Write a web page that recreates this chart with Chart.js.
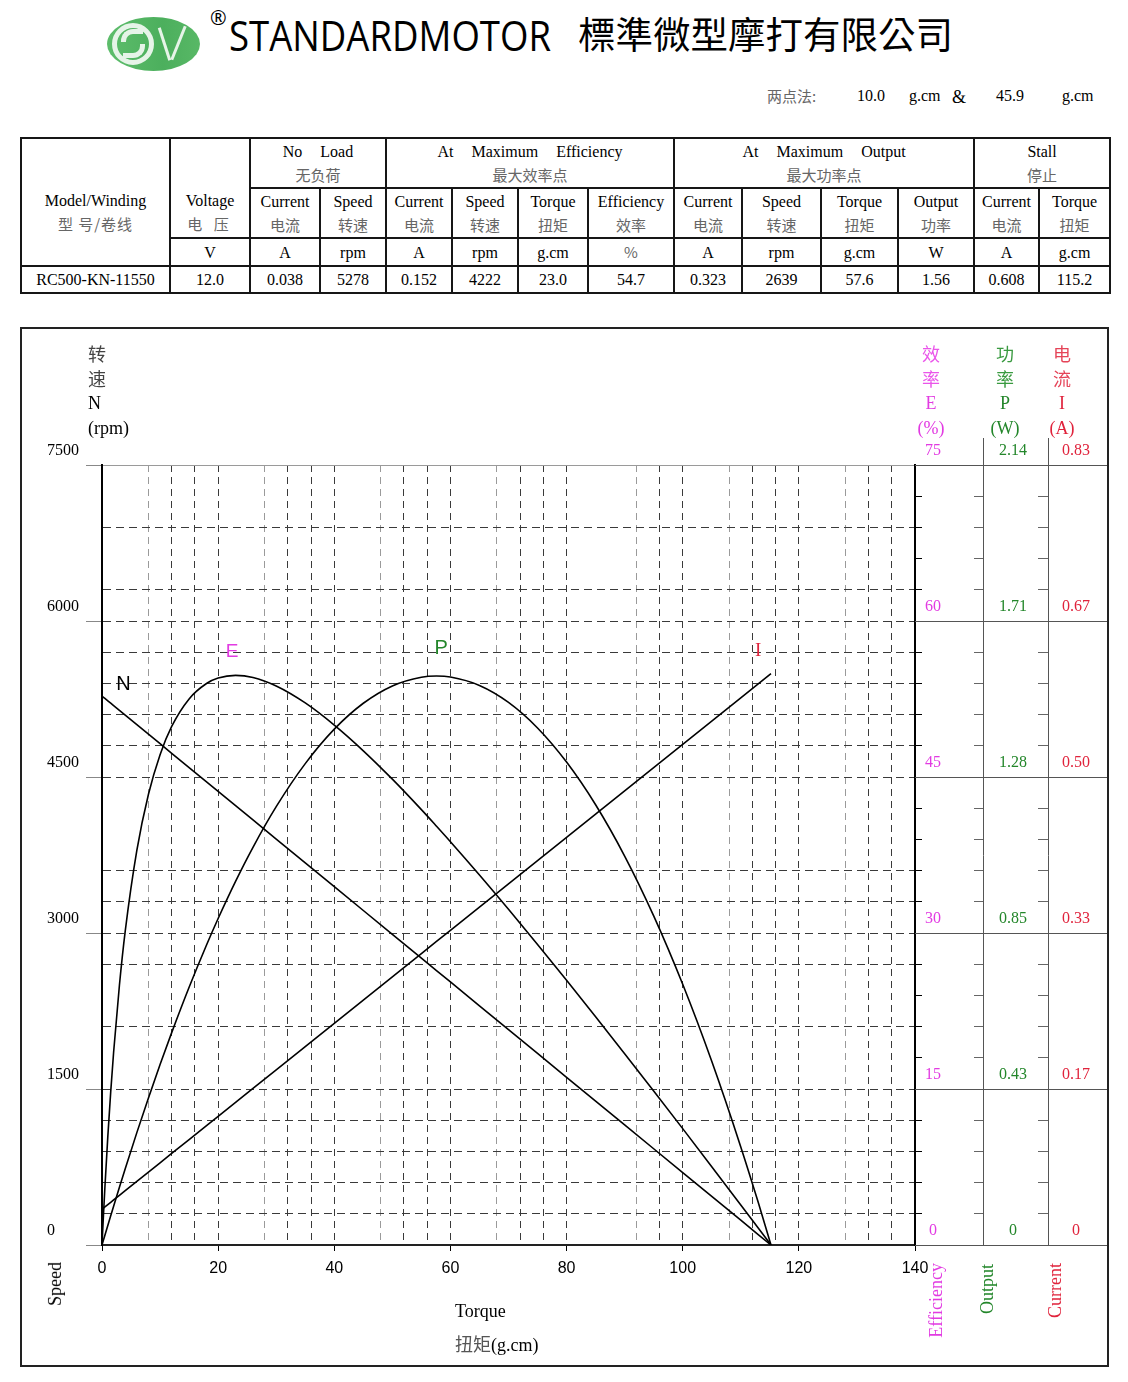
<!DOCTYPE html>
<html><head><meta charset="utf-8">
<script src="https://cdn.jsdelivr.net/npm/chart.js@4.4.0/dist/chart.umd.min.js"></script>
<style>
html,body{margin:0;padding:0;background:#fff;}
body{width:1128px;height:1382px;position:relative;overflow:hidden;font-family:"Liberation Serif",serif;color:#000;}
.abs{position:absolute;white-space:nowrap;}
.c{font-family:"Noto Sans CJK SC",sans-serif;color:#666;font-size:15px;}
#spec{position:absolute;left:20px;top:137px;border-collapse:collapse;table-layout:fixed;width:1089px;}
#spec td{border:2px solid #161616;text-align:center;vertical-align:middle;padding:0;font-size:16px;line-height:23px;white-space:nowrap;}
#spec tr.r1 td,#spec tr.r2 td{height:48px;}
#spec tr.r3 td,#spec tr.r4 td{height:25px;line-height:25px;}
#spec td.tall{vertical-align:top;padding-top:50px;height:auto;}
.grp{word-spacing:5px;}
#frame{position:absolute;left:20px;top:327px;width:1089px;height:1040px;border:2px solid #222;box-sizing:border-box;}
#wrap{position:absolute;left:22px;top:329px;width:1085px;height:1036px;}
.ttl{position:absolute;font-size:18px;text-align:center;width:50px;}
.ttl div{height:25px;line-height:25px;white-space:nowrap;}
.ttl div.k{font-family:"Noto Sans CJK SC",sans-serif;font-size:18px;}
.vert{position:absolute;writing-mode:vertical-rl;transform:rotate(180deg);font-size:18px;line-height:20px;white-space:nowrap;}
</style>
</head><body>

<!-- header -->
<div class="abs" style="left:107px;top:17px;width:93px;height:54px;">
  <div style="position:absolute;left:0;top:0;width:93px;height:54px;border-radius:50%;background:linear-gradient(90deg,#5dbd6b,#4caf5d 60%,#58b866);"></div>
  <div style="position:absolute;left:5px;top:6px;width:42px;height:42px;border-radius:50%;border:5px solid #e6f4e8;box-sizing:border-box;"></div>
  <div style="position:absolute;left:14px;top:12px;width:22px;height:13px;border-top:5px solid #e6f4e8;border-left:5px solid #e6f4e8;border-radius:12px 0 0 0;box-sizing:border-box;"></div>
  <div style="position:absolute;left:16px;top:27px;width:22px;height:14px;border-bottom:5px solid #e6f4e8;border-right:5px solid #e6f4e8;border-radius:0 0 12px 0;box-sizing:border-box;"></div>
  <div style="position:absolute;left:56px;top:10px;width:3px;height:34px;background:#e6f4e8;transform:rotate(-18deg);"></div>
  <div style="position:absolute;left:70px;top:8px;width:3px;height:36px;background:#e6f4e8;transform:rotate(22deg);"></div>
</div>
<div class="abs" style="left:210px;top:6px;font-family:'Open Sans',sans-serif;font-size:20px;line-height:24px;">®</div>
<div id="brand" class="abs" style="left:229px;top:9px;font-family:'Open Sans',sans-serif;font-size:42px;line-height:52px;transform-origin:0 0;">STANDARDMOTOR</div>
<div id="brandcn" class="abs" style="left:578px;top:8px;font-family:'Noto Sans CJK TC',sans-serif;font-size:37px;line-height:50px;transform-origin:0 0;">標準微型摩打有限公司</div>

<div class="abs" style="left:767px;top:85px;font-size:16px;line-height:22px;"><span class="c" style="font-size:15px;">两点法:</span></div>
<div class="abs" style="left:857px;top:85px;font-size:16px;line-height:22px;">10.0</div>
<div class="abs" style="left:909px;top:85px;font-size:16px;line-height:22px;">g.cm</div>
<div class="abs" style="left:952px;top:86px;font-size:18px;line-height:22px;">&amp;</div>
<div class="abs" style="left:996px;top:85px;font-size:16px;line-height:22px;">45.9</div>
<div class="abs" style="left:1062px;top:85px;font-size:16px;line-height:22px;">g.cm</div>

<!-- spec table -->
<table id="spec">
<colgroup>
<col style="width:149px"><col style="width:80px"><col style="width:70px"><col style="width:66px"><col style="width:66px"><col style="width:66px"><col style="width:70px"><col style="width:86px"><col style="width:68px"><col style="width:79px"><col style="width:77px"><col style="width:76px"><col style="width:65px"><col style="width:71px">
</colgroup>
<tr class="r1">
 <td rowspan="3" class="tall">Model/Winding<br><span class="c" style="letter-spacing:1px;">型 号/卷线</span></td>
 <td rowspan="2" class="tall">Voltage<br><span class="c" style="letter-spacing:4px;">电 压</span></td>
 <td colspan="2" class="grp">No &nbsp;Load<br><span class="c">无负荷</span></td>
 <td colspan="4" class="grp">At &nbsp;Maximum &nbsp;Efficiency<br><span class="c">最大效率点</span></td>
 <td colspan="4" class="grp">At &nbsp;Maximum &nbsp;Output<br><span class="c">最大功率点</span></td>
 <td colspan="2">Stall<br><span class="c">停止</span></td>
</tr>
<tr class="r2">
 <td>Current<br><span class="c">电流</span></td>
 <td>Speed<br><span class="c">转速</span></td>
 <td>Current<br><span class="c">电流</span></td>
 <td>Speed<br><span class="c">转速</span></td>
 <td>Torque<br><span class="c">扭矩</span></td>
 <td>Efficiency<br><span class="c">效率</span></td>
 <td>Current<br><span class="c">电流</span></td>
 <td>Speed<br><span class="c">转速</span></td>
 <td>Torque<br><span class="c">扭矩</span></td>
 <td>Output<br><span class="c">功率</span></td>
 <td>Current<br><span class="c">电流</span></td>
 <td>Torque<br><span class="c">扭矩</span></td>
</tr>
<tr class="r3">
 <td>V</td><td>A</td><td>rpm</td><td>A</td><td>rpm</td><td>g.cm</td><td><span class="c">%</span></td><td>A</td><td>rpm</td><td>g.cm</td><td>W</td><td>A</td><td>g.cm</td>
</tr>
<tr class="r4">
 <td>RC500-KN-11550</td><td>12.0</td><td>0.038</td><td>5278</td><td>0.152</td><td>4222</td><td>23.0</td><td>54.7</td><td>0.323</td><td>2639</td><td>57.6</td><td>1.56</td><td>0.608</td><td>115.2</td>
</tr>
</table>

<!-- chart frame -->
<div id="frame"></div>
<div id="wrap"><canvas id="c" width="1085" height="1036"></canvas></div>

<div class="ttl" style="left:88px;top:341px;text-align:left;width:60px;"><div class="k" style="color:#444">转</div><div class="k" style="color:#444">速</div><div>N</div><div>(rpm)</div></div>
<div class="ttl" style="left:906px;top:341px;color:#e23be2;"><div class="k" style="color:#ea55ea">效</div><div class="k" style="color:#ea55ea">率</div><div>E</div><div>(%)</div></div>
<div class="ttl" style="left:980px;top:341px;color:#23862a;"><div class="k" style="color:#3a9a40">功</div><div class="k" style="color:#3a9a40">率</div><div>P</div><div>(W)</div></div>
<div class="ttl" style="left:1037px;top:341px;color:#e0233c;"><div class="k" style="color:#e54458">电</div><div class="k" style="color:#e54458">流</div><div>I</div><div>(A)</div></div>

<div class="vert" style="left:45px;top:1262px;">Speed</div>
<div class="vert" style="left:926px;top:1263px;color:#e23be2;">Efficiency</div>
<div class="vert" style="left:977px;top:1264px;color:#23862a;">Output</div>
<div class="vert" style="left:1045px;top:1263px;color:#e0233c;">Current</div>

<div class="abs" style="left:455px;top:1299px;font-size:18px;line-height:24px;">Torque</div>
<div class="abs" style="left:455px;top:1331px;font-size:18px;line-height:24px;"><span class="c" style="font-size:18px;color:#555">扭矩</span>(g.cm)</div>

<script>
// ---- data ----
const torque     = [0,0.25,0.5,1,1.5,2,3,4,6,8,10,12,15,18,20,23,26,30,35,40,45,50,55,57.6,60,65,70,75,80,85,90,95,100,105,110,113,115.2];
const speed      = [5278,5266.5,5255,5232.2,5209.3,5186.4,5140.6,5094.7,5003.1,4911.5,4819.8,4728.2,4590.8,4453.3,4361.7,4224.2,4086.8,3903.5,3674.4,3445.4,3216.3,2987.2,2758.1,2639.0,2529.0,2299.9,2070.9,1841.8,1612.7,1383.6,1154.6,925.5,696.4,467.3,238.2,100.8,0];
const current    = [0.038,0.0392,0.0405,0.0430,0.0454,0.0479,0.0528,0.0578,0.0677,0.0776,0.0875,0.0974,0.1122,0.1271,0.1370,0.1518,0.1667,0.1864,0.2112,0.2359,0.2607,0.2854,0.3101,0.3230,0.3349,0.3596,0.3844,0.4091,0.4338,0.4586,0.4833,0.5081,0.5328,0.5575,0.5823,0.5971,0.608];
const output     = [0,0.0135,0.0270,0.0537,0.0802,0.1065,0.1584,0.2093,0.3083,0.4035,0.4950,0.5827,0.7072,0.8232,0.8959,0.9978,1.0912,1.2026,1.3207,1.4153,1.4863,1.5339,1.5578,1.5610,1.5583,1.5352,1.4887,1.4186,1.3249,1.2078,1.0671,0.9029,0.7152,0.5039,0.2691,0.1170,0];
const efficiency = [0,2.87,5.56,10.42,14.72,18.53,24.98,30.18,37.95,43.34,47.15,49.86,52.51,53.99,54.51,54.77,54.57,53.75,52.12,49.99,47.52,44.79,41.86,40.27,38.78,35.58,32.28,28.90,25.45,21.95,18.40,14.81,11.19,7.53,3.85,1.63,0];

// ---- tick labels ----
const torqueLabels  = ['0','20','40','60','80','100','120','140'];
const speedLabels   = ['0','1500','3000','4500','6000','7500'];
const effLabels     = ['0','15','30','45','60','75'];
const powerLabels   = ['0','0.43','0.85','1.28','1.71','2.14'];
const currentLabels = ['0','0.17','0.33','0.50','0.67','0.83'];
const torqueMax = 140, speedMax = 7500, effMax = 75, powerMax = 2.14, currentMax = 0.83;

// ---- styling ----
const MAG = '#e23be2', GRN = '#23862a', RED = '#e0233c';
const TRANSP = 'rgba(0,0,0,0)';
const hiddenTorqueGrid = [4,24,44,64,84,88,104,124];
const lightTorqueGrid  = [8,28,48,68,92,108,128];
const hiddenSpeedGrid  = [7200,6600,4200,3900,2400,1800];

function evenTicks(max, n){ const a=[]; for(let i=0;i<=n;i++) a.push({value:max*i/n}); return a; }
function majorLabel(labels){ return (v,i) => (i%5===0 ? labels[i/5] : ''); }

const pts = arr => torque.map((t,i)=>({x:t, y:arr[i]}));

const decor = {
  id:'decor',
  afterDraw(chart){
    const {ctx, chartArea, scales:{x, y, yE, yP, yI}} = chart;
    ctx.save();
    ctx.strokeStyle = '#555'; ctx.lineWidth = 1;
    for (let i=0;i<=5;i++){
      const py = Math.round(y.getPixelForValue(speedMax*i/5)) + 0.5;
      ctx.beginPath(); ctx.moveTo(yE.left, py); ctx.lineTo(yI.right, py); ctx.stroke();
    }
    [yP, yI].forEach(s=>{
      const px = Math.round(s.left) + 0.5;
      ctx.beginPath(); ctx.moveTo(px, chartArea.top - 27); ctx.lineTo(px, chartArea.top); ctx.stroke();
    });
    const tags = [
      {t:'N', x:3.7,  y:5394, c:'#000', f:'20px "Liberation Sans"'},
      {t:'E', x:22.4, y:5702, c:MAG,   f:'19px "Liberation Sans"'},
      {t:'P', x:58.4, y:5731, c:GRN,   f:'20px "Liberation Sans"'},
      {t:'I', x:113,  y:5712, c:RED,   f:'19px "Liberation Serif"'}
    ];
    ctx.textAlign = 'center'; ctx.textBaseline = 'middle';
    tags.forEach(g=>{ ctx.fillStyle = g.c; ctx.font = g.f; ctx.fillText(g.t, x.getPixelForValue(g.x), y.getPixelForValue(g.y)); });
    ctx.restore();
  }
};

const lineDs = (label, arr, axis, mono) => ({
  label, data: pts(arr), yAxisID: axis, borderColor:'#000', borderWidth:1.6,
  pointRadius:0, fill:false, tension: mono ? 0.4 : 0, cubicInterpolationMode: mono ? 'monotone' : 'default'
});

const rightAxis = (max, labels, color, weight, width, tl, pad, tickCol, bCol, bW) => ({
  type:'linear', position:'right', min:0, max, weight,
  afterBuildTicks: s => { s.ticks = evenTicks(max, 25); },
  afterFit: s => { s.width = width; },
  ticks:{autoSkip:false, color, padding:pad, crossAlign:'center', labelOffset:-14,
         font:{family:'Liberation Serif', size:16}, callback: majorLabel(labels)},
  grid:{drawOnChartArea:false, drawTicks:true, tickLength:tl, tickColor:tickCol, color:TRANSP},
  border:{color:bCol, width:bW}
});

new Chart(document.getElementById('c'), {
  type:'line',
  data:{ datasets:[
    lineDs('N', speed, 'y', false),
    lineDs('E', efficiency, 'yE', true),
    lineDs('P', output, 'yP', true),
    lineDs('I', current, 'yI', false)
  ]},
  options:{
    responsive:false, devicePixelRatio:1, animation:false,
    layout:{padding:{left:25, top:136, right:0, bottom:0}},
    plugins:{legend:{display:false}, tooltip:{enabled:false}},
    scales:{
      x:{
        type:'linear', min:0, max:torqueMax,
        afterBuildTicks: s => { s.ticks = evenTicks(torqueMax, 35); },
        afterFit: s => { s.height = 120; },
        ticks:{autoSkip:false, maxRotation:0, minRotation:0, padding:8, color:'#000',
               font:{family:'Liberation Sans', size:16}, callback: majorLabel(torqueLabels)},
        grid:{
          lineWidth:1, tickLength:6,
          color: ctx => {
            if (ctx.type !== 'tick') return TRANSP;
            const v = Math.round(ctx.tick.value);
            if (v === 0 || v === torqueMax || hiddenTorqueGrid.includes(v)) return TRANSP;
            return lightTorqueGrid.includes(v) ? '#9a9a9a' : '#3a3a3a';
          },
          tickColor: ctx => (ctx.index % 5 === 0 ? '#000' : TRANSP)
        },
        border:{color:'#222', width:2, dash: ctx => (ctx.type === 'tick' ? [7,5] : [])}
      },
      y:{
        type:'linear', position:'left', min:0, max:speedMax,
        afterBuildTicks: s => { s.ticks = evenTicks(speedMax, 25); },
        afterFit: s => { s.width = 55; },
        ticks:{autoSkip:false, crossAlign:'far', labelOffset:-14, color:'#000',
               font:{family:'Liberation Serif', size:16}, callback: majorLabel(speedLabels)},
        grid:{
          lineWidth:1, tickLength:16,
          color: ctx => {
            if (ctx.type !== 'tick') return TRANSP;
            const v = Math.round(ctx.tick.value);
            if (v === 0 || hiddenSpeedGrid.includes(v)) return TRANSP;
            return v === speedMax ? '#9a9a9a' : '#3a3a3a';
          },
          tickColor: ctx => (ctx.index % 5 === 0 ? '#888' : TRANSP)
        },
        border:{color:'#000', width:2, dash: ctx => {
          if (ctx.type !== 'tick') return [];
          return Math.round(ctx.tick.value) === speedMax ? [] : [8,5];
        }}
      },
      yE: rightAxis(effMax, effLabels, MAG, 1, 68, 7, 3, '#000', '#000', 2),
      yP: rightAxis(powerMax, powerLabels, GRN, 2, 65, -9, 25, '#666', '#555', 1),
      yI: rightAxis(currentMax, currentLabels, RED, 3, 59, -10, 24, '#666', '#555', 1)
    }
  },
  plugins:[decor]
});

// fit header text widths to the reference
function fitWidth(id, w){
  const el = document.getElementById(id);
  const cur = el.getBoundingClientRect().width;
  if (cur > 0) el.style.transform = 'scaleX(' + (w/cur) + ')';
}
fitWidth('brand', 322);
fitWidth('brandcn', 375);
if (document.fonts && document.fonts.ready) document.fonts.ready.then(()=>{
  document.getElementById('brand').style.transform=''; document.getElementById('brandcn').style.transform='';
  fitWidth('brand', 322); fitWidth('brandcn', 375);
});
</script>
</body></html>
